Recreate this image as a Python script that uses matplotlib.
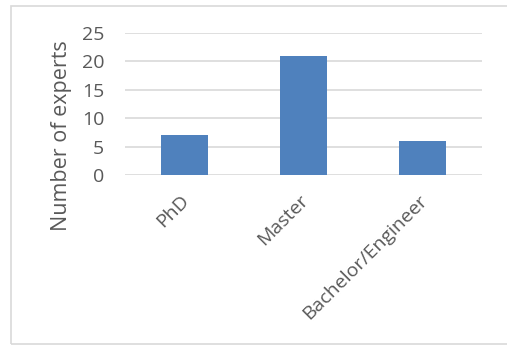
import numpy as np
import matplotlib.pyplot as plt
from matplotlib.patches import Rectangle

categories = ['PhD', 'Master', 'Bachelor/Engineer']
experts = [7, 21, 6]
y_ticks = [0, 5, 10, 15, 20, 25]

plt.rcParams['font.family'] = ['Open Sans', 'DejaVu Sans']
text_col = '#595959'
grid_col = '#d9d9d9'

fig = plt.figure(figsize=(5.07, 3.46), dpi=100)
ax = fig.add_axes([0.2465, 0.4942, 0.704, 0.4104])

x = np.arange(len(categories))
ax.bar(x, experts, width=0.4, color='#4f81bd', zorder=3)

ax.set_xlim(-0.5, len(categories) - 0.5)
ax.set_ylim(0, 25)
ax.set_yticks(y_ticks)
ax.tick_params(axis='y', length=0, labelsize=14, labelcolor=text_col, pad=15)
ax.grid(axis='y', color=grid_col, linewidth=1.2, zorder=0)
for s in ax.spines.values():
    s.set_visible(False)

ax.set_xticks(x)
ax.set_xticklabels([])
ax.tick_params(axis='x', length=0)
for xi, lab in zip(x, categories):
    ax.annotate(lab, xy=(xi, 0), xycoords='data', xytext=(-3, -12),
                textcoords='offset points', rotation=45, ha='right', va='top',
                rotation_mode='anchor', fontsize=14, color=text_col)

fig.text(0.122, 0.607, 'Number of experts', rotation=90, ha='center', va='center',
         fontsize=15.5, color=text_col)

# chart border
fig.patches.append(Rectangle((11 / 507, 2 / 346), 1.1, 338 / 346, transform=fig.transFigure,
                             fill=False, edgecolor=grid_col, linewidth=1.2))

fig.savefig('out.png', dpi=100)
